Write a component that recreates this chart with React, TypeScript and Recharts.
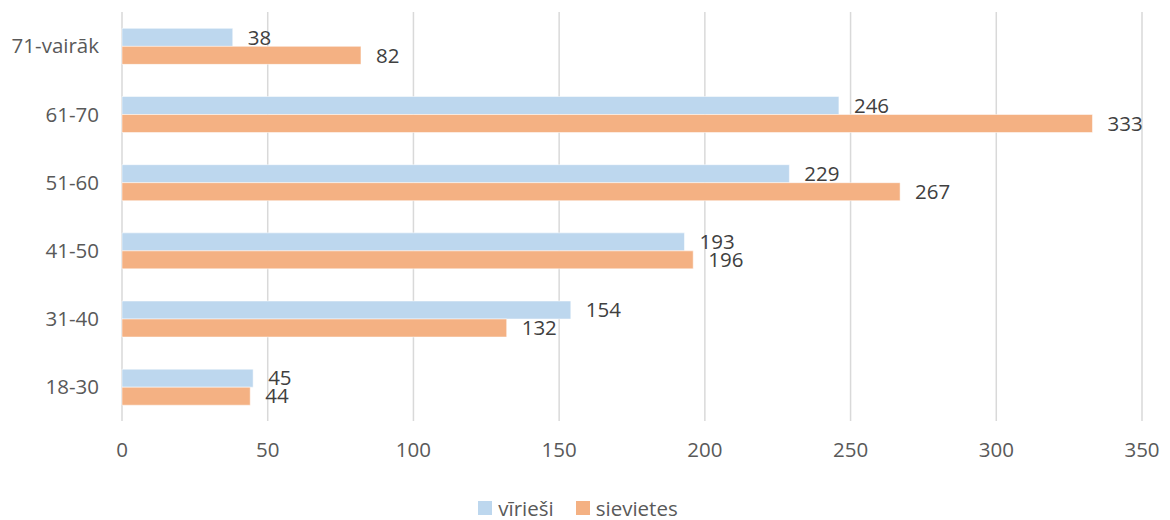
import { BarChart, Bar, XAxis, YAxis, CartesianGrid, Legend, LabelList } from "recharts";

const ageGroups = ["71-vairāk", "61-70", "51-60", "41-50", "31-40", "18-30"];
const men = [38, 246, 229, 193, 154, 45];
const women = [82, 333, 267, 196, 132, 44];
const xTicks = [0, 50, 100, 150, 200, 250, 300, 350];

const series = [
  { key: "virieshi", name: "vīrieši", color: "#BDD7EE" },
  { key: "sievietes", name: "sievietes", color: "#F4B183" },
];

const data = ageGroups.map((group, i) => ({
  group,
  virieshi: men[i],
  sievietes: women[i],
}));

const FONT = "'Open Sans', sans-serif";
const FS = 20.5;

function ChartLegend() {
  return (
    <div
      style={{
        display: "flex",
        justifyContent: "center",
        gap: 22,
        paddingLeft: 14,
        fontFamily: FONT,
        fontSize: FS,
        color: "#595959",
      }}
    >
      {series.map((s) => (
        <div key={s.key} style={{ display: "flex", alignItems: "center", gap: 6 }}>
          <span style={{ display: "inline-block", width: 14, height: 14, background: s.color }} />
          <span>{s.name}</span>
        </div>
      ))}
    </div>
  );
}

export default function App() {
  return (
    <div style={{ position: "absolute", left: 0, top: 0, fontFamily: FONT }}>
      <BarChart
        width={1170}
        height={520}
        data={data}
        layout="vertical"
        margin={{ top: 12, right: 28, bottom: 0, left: 0 }}
        barCategoryGap="24%"
        barGap={0}
      >
        <CartesianGrid horizontal={false} stroke="#d9d9d9" strokeWidth={1.5} />
        <XAxis
          type="number"
          domain={[0, 350]}
          ticks={xTicks}
          axisLine={false}
          tickLine={false}
          tickSize={0}
          tickMargin={21}
          height={71}
          tick={{ fill: "#595959", fontSize: FS, fontFamily: FONT }}
        />
        <YAxis
          type="category"
          dataKey="group"
          width={122}
          axisLine={false}
          tickLine={false}
          tickSize={0}
          tickMargin={23}
          tick={{ fill: "#595959", fontSize: FS, fontFamily: FONT }}
        />
        <Legend verticalAlign="bottom" content={<ChartLegend />} wrapperStyle={{ bottom: -2 }} />
        {series.map((s) => (
          <Bar
            key={s.key}
            dataKey={s.key}
            name={s.name}
            fill={s.color}
            stroke="#ffffff"
            strokeOpacity={0.5}
            strokeWidth={1}
            isAnimationActive={false}
          >
            <LabelList dataKey={s.key} position="right" offset={15} fill="#404040" fontSize={FS} fontFamily={FONT} />
          </Bar>
        ))}
      </BarChart>
    </div>
  );
}
